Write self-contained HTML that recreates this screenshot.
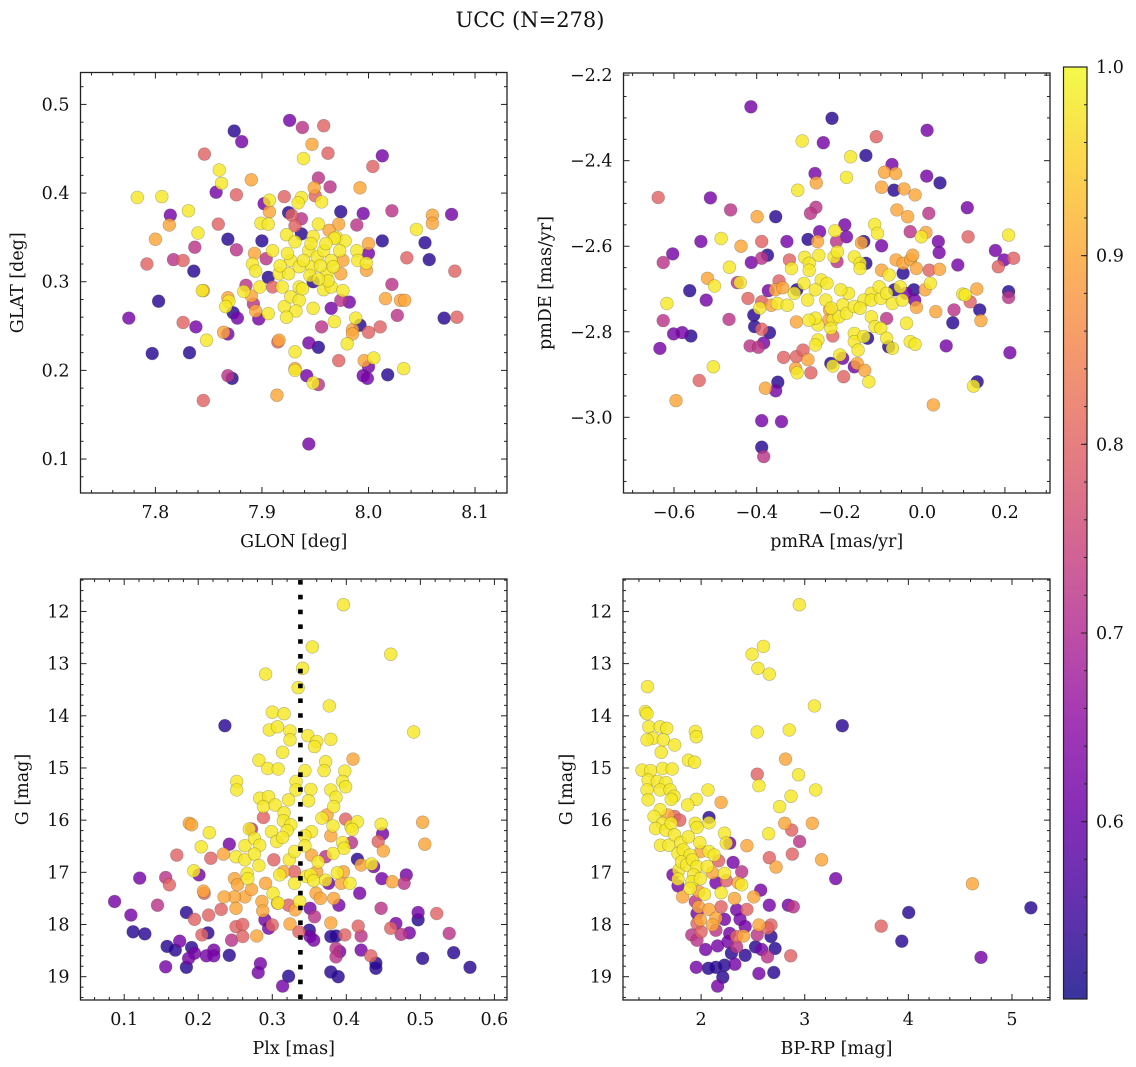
<!DOCTYPE html>
<html><head><meta charset="utf-8"><style>
html,body{margin:0;padding:0;background:#fff;}
svg{display:block;font-family:"DejaVu Serif","Liberation Serif",serif;}
</style></head><body>
<svg id="fig" width="1136" height="1067" viewBox="0 0 1136 1067" xmlns="http://www.w3.org/2000/svg">
<text x="530" y="27" font-size="21" text-anchor="middle" fill="#111">UCC (N=278)</text>
</svg>
<script>
// ---- data: [x, y, membership probability] ----
const posData=[[7.926,0.482,0.62],[7.938,0.474,0.72],[7.958,0.476,0.8],[7.874,0.47,0.53],[7.881,0.458,0.62],[7.947,0.455,0.9],[7.846,0.444,0.8],[7.939,0.439,0.98],[7.962,0.445,0.8],[8.013,0.442,0.62],[8.004,0.43,0.8],[7.86,0.426,0.98],[7.862,0.411,0.98],[7.89,0.415,0.9],[7.953,0.417,0.72],[7.964,0.407,0.72],[7.949,0.406,0.9],[7.992,0.406,0.9],[7.783,0.395,0.98],[7.806,0.396,0.98],[7.857,0.401,0.62],[7.876,0.398,0.8],[7.902,0.388,0.62],[7.907,0.392,0.98],[7.921,0.396,0.8],[7.937,0.395,0.98],[7.934,0.389,0.98],[7.95,0.397,0.8],[7.956,0.39,0.98],[7.831,0.38,0.98],[7.814,0.375,0.62],[7.813,0.364,0.9],[7.925,0.378,0.53],[7.928,0.375,0.8],[7.907,0.379,0.9],[7.937,0.371,0.72],[7.974,0.379,0.53],[7.995,0.377,0.62],[8.022,0.38,0.72],[8.078,0.376,0.62],[8.06,0.375,0.9],[8.06,0.366,0.9],[8.045,0.359,0.98],[7.859,0.365,0.8],[7.84,0.355,0.98],[7.8,0.348,0.9],[7.868,0.348,0.53],[7.876,0.336,0.72],[7.837,0.339,0.72],[7.899,0.366,0.98],[7.906,0.365,0.98],[7.931,0.363,0.8],[7.937,0.354,0.53],[7.953,0.365,0.98],[7.972,0.365,0.9],[7.989,0.364,0.72],[7.9,0.346,0.53],[7.923,0.353,0.98],[7.948,0.351,0.98],[7.963,0.358,0.9],[7.97,0.35,0.98],[7.978,0.346,0.98],[8.013,0.346,0.53],[8.053,0.344,0.53],[8.057,0.325,0.53],[8.036,0.327,0.8],[8.0,0.343,0.9],[7.792,0.32,0.8],[7.817,0.325,0.72],[7.826,0.324,0.8],[7.836,0.312,0.53],[7.893,0.332,0.9],[7.891,0.32,0.98],[7.894,0.312,0.98],[7.904,0.326,0.72],[7.91,0.335,0.98],[7.916,0.309,0.98],[7.906,0.305,0.53],[7.927,0.324,0.98],[7.925,0.309,0.98],[7.935,0.317,0.98],[7.944,0.335,0.98],[7.947,0.317,0.98],[7.952,0.328,0.98],[7.958,0.335,0.98],[7.965,0.324,0.98],[7.961,0.309,0.98],[7.973,0.335,0.98],[7.976,0.324,0.9],[7.974,0.309,0.9],[7.989,0.335,0.98],[7.99,0.324,0.98],[7.998,0.321,0.98],[8.0,0.332,0.62],[7.998,0.313,0.9],[8.081,0.312,0.8],[8.071,0.259,0.53],[8.083,0.26,0.8],[7.931,0.345,0.98],[7.935,0.294,0.98],[7.919,0.294,0.98],[7.91,0.294,0.8],[7.898,0.294,0.98],[7.885,0.296,0.72],[7.883,0.289,0.98],[7.89,0.284,0.9],[7.845,0.29,0.9],[7.844,0.29,0.98],[7.803,0.278,0.53],[7.775,0.259,0.62],[7.868,0.282,0.9],[7.869,0.278,0.98],[7.866,0.272,0.98],[7.892,0.275,0.72],[7.894,0.267,0.9],[7.873,0.265,0.53],[7.877,0.259,0.62],[7.897,0.258,0.62],[7.906,0.264,0.98],[7.921,0.272,0.98],[7.927,0.283,0.98],[7.935,0.279,0.98],[7.932,0.267,0.98],[7.923,0.26,0.98],[7.938,0.292,0.98],[7.948,0.3,0.53],[7.958,0.291,0.98],[7.965,0.294,0.98],[7.976,0.29,0.98],[7.948,0.27,0.98],[7.965,0.27,0.62],[7.968,0.255,0.98],[7.974,0.279,0.72],[7.982,0.277,0.62],[7.988,0.259,0.98],[7.992,0.251,0.53],[8.0,0.243,0.8],[8.011,0.249,0.8],[8.016,0.281,0.9],[8.03,0.279,0.9],[8.034,0.279,0.9],[8.022,0.297,0.72],[8.027,0.262,0.72],[7.826,0.254,0.8],[7.838,0.249,0.62],[7.848,0.234,0.98],[7.864,0.243,0.9],[7.868,0.241,0.62],[7.956,0.249,0.72],[7.985,0.246,0.9],[7.985,0.241,0.9],[7.972,0.211,0.8],[7.98,0.23,0.98],[7.916,0.234,0.9],[7.915,0.232,0.8],[7.944,0.231,0.62],[7.953,0.226,0.53],[7.931,0.221,0.98],[7.832,0.22,0.53],[7.797,0.219,0.53],[7.931,0.202,0.9],[7.931,0.2,0.98],[7.942,0.194,0.62],[7.948,0.186,0.98],[7.953,0.184,0.72],[7.868,0.194,0.72],[7.872,0.191,0.53],[7.995,0.194,0.62],[7.999,0.191,0.62],[8.0,0.204,0.62],[7.996,0.211,0.9],[8.005,0.214,0.98],[8.018,0.195,0.53],[8.033,0.202,0.98],[7.845,0.166,0.8],[7.914,0.172,0.9],[7.944,0.117,0.62],[7.917,0.318,0.98],[7.939,0.324,0.98],[7.955,0.318,0.98],[7.945,0.307,0.98],[7.967,0.317,0.98],[7.968,0.349,0.98],[7.946,0.343,0.98],[7.96,0.343,0.98],[7.924,0.332,0.98],[7.962,0.301,0.98],[7.953,0.303,0.98]];
const pmData=[[-0.414,-2.274,0.62],[-0.218,-2.301,0.53],[0.012,-2.329,0.62],[-0.111,-2.344,0.8],[-0.29,-2.354,0.98],[-0.239,-2.358,0.62],[-0.173,-2.391,0.98],[-0.136,-2.388,0.53],[-0.183,-2.439,0.98],[-0.259,-2.43,0.62],[-0.256,-2.452,0.9],[-0.073,-2.409,0.62],[-0.091,-2.427,0.9],[-0.064,-2.43,0.9],[0.011,-2.436,0.62],[-0.098,-2.462,0.9],[-0.068,-2.469,0.53],[-0.044,-2.466,0.9],[-0.017,-2.48,0.9],[0.043,-2.452,0.53],[-0.301,-2.469,0.98],[-0.638,-2.486,0.8],[-0.512,-2.487,0.62],[-0.463,-2.515,0.72],[-0.257,-2.509,0.72],[-0.27,-2.523,0.72],[-0.061,-2.515,0.9],[-0.035,-2.531,0.9],[0.016,-2.523,0.72],[0.109,-2.51,0.62],[-0.399,-2.531,0.9],[-0.354,-2.531,0.53],[-0.187,-2.55,0.62],[-0.115,-2.549,0.98],[-0.108,-2.57,0.98],[-0.248,-2.566,0.62],[-0.211,-2.564,0.98],[-0.183,-2.578,0.62],[-0.029,-2.566,0.72],[0.009,-2.568,0.9],[-0.002,-2.578,0.98],[0.111,-2.578,0.8],[0.209,-2.574,0.98],[-0.486,-2.582,0.98],[-0.535,-2.589,0.62],[-0.438,-2.6,0.9],[-0.388,-2.589,0.8],[-0.276,-2.584,0.53],[-0.253,-2.589,0.9],[-0.327,-2.589,0.62],[-0.207,-2.589,0.72],[-0.147,-2.592,0.9],[-0.141,-2.589,0.53],[-0.098,-2.599,0.62],[0.039,-2.589,0.62],[0.041,-2.615,0.62],[0.177,-2.61,0.62],[0.198,-2.632,0.62],[0.221,-2.628,0.8],[0.184,-2.648,0.8],[0.086,-2.644,0.62],[-0.603,-2.618,0.62],[-0.626,-2.638,0.72],[-0.413,-2.638,0.62],[-0.388,-2.628,0.72],[-0.374,-2.621,0.53],[-0.466,-2.649,0.98],[-0.321,-2.632,0.8],[-0.316,-2.652,0.98],[-0.284,-2.626,0.98],[-0.273,-2.64,0.98],[-0.273,-2.656,0.98],[-0.25,-2.621,0.98],[-0.213,-2.625,0.98],[-0.205,-2.613,0.98],[-0.206,-2.636,0.72],[-0.164,-2.625,0.98],[-0.15,-2.64,0.98],[-0.15,-2.652,0.98],[-0.136,-2.64,0.53],[-0.098,-2.656,0.9],[-0.08,-2.667,0.98],[-0.063,-2.632,0.9],[-0.046,-2.64,0.9],[-0.028,-2.631,0.9],[-0.023,-2.621,0.9],[-0.014,-2.652,0.9],[0.017,-2.656,0.8],[0.042,-2.654,0.9],[-0.046,-2.663,0.53],[-0.519,-2.675,0.9],[-0.502,-2.693,0.98],[-0.44,-2.685,0.98],[-0.447,-2.685,0.72],[-0.562,-2.704,0.53],[-0.522,-2.726,0.62],[-0.617,-2.734,0.98],[-0.626,-2.774,0.72],[-0.601,-2.805,0.62],[-0.58,-2.802,0.62],[-0.559,-2.81,0.53],[-0.634,-2.839,0.62],[-0.346,-2.681,0.8],[-0.355,-2.702,0.9],[-0.372,-2.704,0.62],[-0.337,-2.697,0.9],[-0.309,-2.71,0.98],[-0.303,-2.702,0.53],[-0.286,-2.687,0.98],[-0.244,-2.679,0.98],[-0.23,-2.687,0.98],[-0.258,-2.702,0.98],[-0.277,-2.726,0.98],[-0.35,-2.734,0.98],[-0.326,-2.738,0.98],[-0.393,-2.745,0.98],[-0.421,-2.722,0.8],[-0.388,-2.73,0.8],[-0.365,-2.738,0.9],[-0.407,-2.761,0.53],[-0.467,-2.771,0.72],[-0.405,-2.788,0.53],[-0.388,-2.794,0.8],[-0.369,-2.802,0.53],[-0.383,-2.826,0.62],[-0.416,-2.833,0.72],[-0.396,-2.836,0.72],[-0.335,-2.86,0.8],[-0.304,-2.858,0.8],[-0.288,-2.843,0.8],[-0.276,-2.865,0.9],[-0.306,-2.886,0.9],[-0.302,-2.896,0.98],[-0.269,-2.896,0.8],[-0.505,-2.882,0.98],[-0.539,-2.914,0.8],[-0.595,-2.961,0.9],[-0.379,-2.932,0.9],[-0.349,-2.918,0.53],[-0.354,-2.938,0.62],[-0.388,-3.008,0.62],[-0.34,-3.01,0.62],[-0.388,-3.07,0.53],[-0.383,-3.092,0.72],[-0.215,-2.771,0.98],[-0.201,-2.765,0.98],[-0.192,-2.737,0.98],[-0.183,-2.757,0.98],[-0.178,-2.71,0.98],[-0.197,-2.702,0.98],[-0.233,-2.726,0.98],[-0.224,-2.749,0.9],[-0.226,-2.773,0.9],[-0.221,-2.792,0.98],[-0.252,-2.784,0.98],[-0.258,-2.768,0.98],[-0.274,-2.773,0.98],[-0.304,-2.777,0.9],[-0.252,-2.819,0.98],[-0.258,-2.831,0.98],[-0.216,-2.81,0.8],[-0.199,-2.854,0.98],[-0.221,-2.874,0.53],[-0.216,-2.88,0.98],[-0.192,-2.862,0.62],[-0.164,-2.882,0.62],[-0.157,-2.874,0.9],[-0.139,-2.89,0.9],[-0.129,-2.917,0.98],[-0.19,-2.905,0.8],[-0.164,-2.804,0.98],[-0.164,-2.823,0.98],[-0.155,-2.843,0.98],[-0.141,-2.811,0.98],[-0.132,-2.815,0.53],[-0.123,-2.765,0.98],[-0.114,-2.788,0.98],[-0.1,-2.792,0.98],[-0.086,-2.815,0.98],[-0.081,-2.835,0.53],[-0.072,-2.839,0.98],[-0.123,-2.71,0.98],[-0.141,-2.726,0.98],[-0.123,-2.726,0.98],[-0.1,-2.722,0.98],[-0.104,-2.695,0.98],[-0.086,-2.71,0.98],[-0.072,-2.734,0.98],[-0.067,-2.702,0.53],[-0.048,-2.726,0.98],[-0.053,-2.695,0.98],[-0.039,-2.71,0.62],[-0.086,-2.769,0.72],[-0.02,-2.702,0.53],[-0.018,-2.726,0.62],[-0.014,-2.743,0.9],[0.007,-2.702,0.9],[0.02,-2.687,0.98],[-0.038,-2.78,0.98],[-0.029,-2.823,0.98],[-0.017,-2.829,0.98],[0.033,-2.753,0.9],[0.074,-2.779,0.53],[0.058,-2.833,0.62],[0.098,-2.712,0.98],[0.104,-2.714,0.98],[0.077,-2.749,0.72],[0.116,-2.73,0.8],[0.132,-2.7,0.9],[0.139,-2.749,0.53],[0.142,-2.774,0.9],[0.209,-2.706,0.53],[0.209,-2.72,0.72],[0.212,-2.849,0.62],[0.133,-2.917,0.53],[0.124,-2.927,0.98],[0.027,-2.971,0.9],[-0.22,-2.745,0.98],[-0.164,-2.741,0.98],[-0.15,-2.745,0.98]];
const plxData=[[0.396,11.87,0.98],[0.354,12.68,0.98],[0.46,12.82,0.98],[0.341,13.09,0.98],[0.291,13.2,0.98],[0.335,13.46,0.98],[0.377,13.81,0.98],[0.3,13.93,0.98],[0.316,13.96,0.98],[0.236,14.19,0.53],[0.491,14.31,0.98],[0.296,14.27,0.98],[0.307,14.21,0.98],[0.324,14.29,0.98],[0.324,14.46,0.98],[0.348,14.38,0.98],[0.36,14.49,0.98],[0.357,14.59,0.98],[0.379,14.45,0.98],[0.314,14.7,0.98],[0.282,14.85,0.98],[0.294,15.01,0.98],[0.308,15.02,0.98],[0.372,14.88,0.98],[0.37,15.05,0.98],[0.409,14.83,0.9],[0.398,15.06,0.98],[0.344,15.05,0.98],[0.252,15.26,0.98],[0.252,15.42,0.98],[0.395,15.26,0.98],[0.399,15.36,0.98],[0.379,15.42,0.98],[0.352,15.41,0.98],[0.332,15.26,0.98],[0.332,15.42,0.98],[0.322,15.61,0.98],[0.349,15.63,0.98],[0.386,15.56,0.98],[0.283,15.58,0.98],[0.295,15.55,0.98],[0.288,15.74,0.98],[0.304,15.71,0.98],[0.383,15.74,0.98],[0.367,15.96,0.98],[0.374,15.9,0.9],[0.316,15.86,0.98],[0.315,16.01,0.98],[0.325,16.09,0.98],[0.288,15.95,0.8],[0.399,15.98,0.8],[0.406,16.12,0.98],[0.415,16.03,0.98],[0.408,16.18,0.98],[0.382,16.11,0.98],[0.188,16.06,0.9],[0.191,16.09,0.9],[0.215,16.24,0.98],[0.503,16.04,0.9],[0.506,16.46,0.9],[0.447,16.08,0.98],[0.449,16.26,0.62],[0.353,16.22,0.98],[0.32,16.2,0.98],[0.272,16.17,0.72],[0.269,16.17,0.98],[0.299,16.22,0.98],[0.204,16.51,0.98],[0.242,16.46,0.62],[0.263,16.49,0.98],[0.276,16.35,0.98],[0.283,16.48,0.98],[0.306,16.41,0.98],[0.314,16.33,0.98],[0.344,16.3,0.98],[0.344,16.49,0.98],[0.379,16.3,0.9],[0.395,16.43,0.98],[0.397,16.54,0.98],[0.407,16.43,0.72],[0.443,16.41,0.8],[0.45,16.59,0.9],[0.171,16.67,0.8],[0.217,16.73,0.8],[0.234,16.65,0.9],[0.251,16.7,0.98],[0.263,16.76,0.98],[0.276,16.65,0.98],[0.282,16.87,0.98],[0.302,16.76,0.8],[0.323,16.76,0.98],[0.33,16.6,0.98],[0.353,16.67,0.9],[0.362,16.8,0.98],[0.372,16.7,0.72],[0.382,16.64,0.98],[0.415,16.75,0.53],[0.42,16.86,0.9],[0.434,16.84,0.98],[0.437,16.89,0.62],[0.156,17.1,0.72],[0.161,17.24,0.8],[0.121,17.11,0.62],[0.194,16.97,0.98],[0.201,17.05,0.62],[0.207,17.36,0.9],[0.208,17.4,0.8],[0.249,17.12,0.9],[0.253,17.24,0.9],[0.266,17.02,0.98],[0.267,17.12,0.98],[0.263,17.47,0.9],[0.249,17.47,0.9],[0.235,17.47,0.9],[0.272,17.33,0.9],[0.291,17.21,0.9],[0.301,17.4,0.98],[0.308,17.59,0.98],[0.31,17.05,0.98],[0.315,16.99,0.9],[0.33,16.99,0.8],[0.33,17.21,0.98],[0.346,17.08,0.98],[0.352,17.05,0.98],[0.356,17.16,0.98],[0.36,16.99,0.9],[0.372,17.15,0.98],[0.376,17.21,0.62],[0.388,17.01,0.98],[0.396,16.99,0.9],[0.393,17.21,0.9],[0.405,17.21,0.98],[0.337,17.56,0.98],[0.359,17.4,0.9],[0.365,17.5,0.9],[0.383,17.5,0.9],[0.39,17.63,0.62],[0.418,17.4,0.62],[0.448,17.12,0.62],[0.462,17.18,0.9],[0.478,17.21,0.72],[0.481,17.05,0.62],[0.087,17.56,0.62],[0.109,17.82,0.62],[0.145,17.63,0.72],[0.184,17.77,0.53],[0.195,17.9,0.8],[0.214,17.82,0.8],[0.231,17.71,0.8],[0.251,17.69,0.9],[0.286,17.56,0.9],[0.287,17.74,0.9],[0.307,17.59,0.9],[0.322,17.63,0.8],[0.331,17.72,0.9],[0.351,17.69,0.62],[0.357,17.85,0.72],[0.447,17.69,0.72],[0.497,17.77,0.62],[0.497,17.91,0.53],[0.522,17.79,0.8],[0.112,18.14,0.53],[0.128,18.18,0.53],[0.205,18.2,0.8],[0.213,18.16,0.53],[0.245,18.3,0.72],[0.251,18.04,0.8],[0.26,18.0,0.8],[0.26,18.23,0.8],[0.279,18.22,0.9],[0.29,17.91,0.62],[0.295,18.07,0.62],[0.3,18.01,0.8],[0.324,17.99,0.9],[0.336,18.14,0.8],[0.35,18.11,0.53],[0.351,18.23,0.62],[0.356,18.3,0.62],[0.379,17.97,0.9],[0.379,18.23,0.53],[0.386,18.22,0.53],[0.398,18.2,0.8],[0.416,18.03,0.8],[0.42,18.22,0.72],[0.46,18.07,0.8],[0.467,17.98,0.62],[0.474,18.19,0.72],[0.485,18.16,0.62],[0.539,18.17,0.72],[0.158,18.42,0.53],[0.169,18.49,0.53],[0.175,18.32,0.62],[0.191,18.44,0.53],[0.195,18.55,0.62],[0.187,18.65,0.62],[0.211,18.6,0.62],[0.221,18.49,0.62],[0.221,18.6,0.62],[0.242,18.59,0.53],[0.386,18.46,0.72],[0.391,18.52,0.62],[0.386,18.62,0.72],[0.42,18.49,0.62],[0.433,18.6,0.8],[0.44,18.74,0.53],[0.44,18.84,0.53],[0.545,18.54,0.53],[0.503,18.65,0.53],[0.567,18.82,0.53],[0.156,18.81,0.62],[0.184,18.82,0.53],[0.284,18.75,0.62],[0.281,18.92,0.62],[0.322,18.99,0.53],[0.314,19.18,0.62],[0.379,18.91,0.53],[0.389,19.0,0.53]];
const cmdData=[[2.947,11.87,0.98],[2.601,12.67,0.98],[2.492,12.82,0.98],[2.548,13.09,0.98],[2.658,13.2,0.98],[1.482,13.44,0.98],[1.462,13.92,0.98],[1.478,13.96,0.98],[3.093,13.81,0.98],[3.362,14.19,0.53],[2.541,14.31,0.98],[2.85,14.27,0.98],[1.495,14.21,0.98],[1.605,14.21,0.98],[1.668,14.24,0.98],[1.535,14.43,0.98],[1.635,14.46,0.98],[1.478,14.46,0.98],[1.744,14.56,0.98],[1.615,14.7,0.98],[1.944,14.3,0.98],[1.953,14.4,0.98],[1.877,14.85,0.98],[1.937,14.89,0.98],[2.814,14.83,0.9],[1.429,15.04,0.98],[1.512,15.05,0.98],[1.628,15.01,0.98],[1.721,15.02,0.98],[2.94,15.13,0.98],[2.541,15.12,0.8],[2.558,15.34,0.98],[1.488,15.23,0.98],[1.578,15.26,0.98],[1.661,15.28,0.98],[1.605,15.42,0.98],[1.701,15.42,0.98],[1.478,15.42,0.98],[1.488,15.61,0.98],[1.738,15.54,0.98],[1.711,15.6,0.98],[2.066,15.42,0.98],[3.106,15.42,0.98],[2.867,15.54,0.98],[1.953,15.6,0.98],[1.87,15.71,0.98],[2.193,15.66,0.9],[2.757,15.74,0.98],[1.605,15.8,0.98],[1.545,15.93,0.98],[1.628,16.06,0.98],[1.561,16.16,0.98],[1.661,16.19,0.98],[1.711,16.06,0.98],[1.678,15.9,0.9],[1.744,15.93,0.8],[1.794,16.0,0.8],[2.076,15.95,0.53],[2.076,16.05,0.98],[1.944,16.06,0.98],[1.96,16.14,0.98],[2.807,16.06,0.9],[3.073,16.06,0.9],[2.651,16.26,0.98],[2.874,16.19,0.8],[2.95,16.41,0.72],[1.608,16.48,0.98],[1.688,16.48,0.98],[1.744,16.28,0.98],[1.804,16.43,0.98],[1.877,16.32,0.98],[1.987,16.43,0.98],[2.226,16.25,0.98],[2.243,16.44,0.98],[2.276,16.44,0.62],[2.442,16.49,0.9],[1.777,16.64,0.98],[1.827,16.57,0.98],[1.894,16.67,0.98],[1.997,16.6,0.9],[2.076,16.6,0.98],[2.126,16.67,0.98],[2.169,16.78,0.8],[2.658,16.72,0.8],[2.724,16.9,0.9],[2.88,16.65,0.8],[3.163,16.76,0.9],[2.309,16.81,0.62],[1.728,17.05,0.62],[1.784,16.96,0.98],[1.777,17.13,0.98],[1.811,16.8,0.98],[1.86,16.86,0.98],[1.917,16.76,0.98],[1.96,16.89,0.98],[1.927,17.05,0.98],[1.91,17.18,0.98],[1.993,17.12,0.98],[2.06,16.89,0.98],[2.11,17.01,0.9],[2.226,17.02,0.98],[2.392,16.99,0.72],[2.143,17.2,0.62],[2.243,17.16,0.8],[2.359,17.2,0.9],[2.392,17.24,0.98],[1.777,17.26,0.62],[1.821,17.47,0.9],[1.894,17.31,0.98],[1.977,17.37,0.9],[2.033,17.42,0.98],[2.193,17.39,0.98],[2.322,17.5,0.9],[2.508,17.47,0.9],[2.575,17.34,0.62],[2.658,17.63,0.62],[2.841,17.63,0.62],[2.89,17.66,0.72],[2.342,17.72,0.62],[2.442,17.71,0.8],[1.944,17.56,0.72],[1.977,17.66,0.9],[2.076,17.71,0.9],[2.193,17.66,0.8],[1.96,17.79,0.62],[1.993,17.91,0.9],[2.143,17.88,0.9],[2.226,17.9,0.62],[2.11,18.01,0.9],[1.96,17.98,0.8],[1.91,18.2,0.72],[2.0,18.14,0.8],[2.143,18.11,0.72],[2.276,18.17,0.62],[2.375,17.9,0.62],[2.425,18.04,0.62],[2.342,18.23,0.8],[2.558,18.01,0.9],[2.674,18.01,0.8],[2.641,18.07,0.8],[2.674,18.23,0.53],[2.541,18.2,0.72],[2.409,18.22,0.9],[2.259,18.33,0.62],[2.342,18.43,0.72],[1.96,18.3,0.72],[2.043,18.48,0.62],[2.159,18.41,0.62],[2.292,18.55,0.53],[2.425,18.59,0.53],[2.525,18.43,0.53],[2.585,18.48,0.62],[2.714,18.46,0.53],[2.641,18.62,0.72],[2.864,18.6,0.8],[2.07,18.84,0.53],[2.143,18.82,0.53],[1.953,18.82,0.62],[2.226,18.78,0.53],[2.326,18.76,0.62],[2.209,19.01,0.53],[2.159,19.18,0.62],[2.558,18.94,0.62],[2.701,18.92,0.53],[3.299,17.12,0.62],[4.618,17.22,0.9],[5.183,17.68,0.53],[4.003,17.77,0.53],[3.738,18.03,0.8],[3.937,18.32,0.53],[4.701,18.63,0.62]];
const plxRef=[0.338];
const cbarTicks=[0.6,0.7,0.8,0.9,1.0];
const cbarRange=[0.506,1.0];

// ---- plasma colormap ----
const PL=["#0d0887","#41049d","#6a00a8","#8f0da4","#b12a90","#cc4778","#e16462","#f2844b","#fca636","#fcce25","#f0f921"];
function hx(h){return [parseInt(h.substr(1,2),16),parseInt(h.substr(3,2),16),parseInt(h.substr(5,2),16)];}
function plasma(t){t=Math.max(0,Math.min(1,t));const f=t*10,i=Math.min(9,Math.floor(f)),r=f-i;const a=hx(PL[i]),b=hx(PL[i+1]);
 return "rgb("+a.map((v,k)=>Math.round(v+(b[k]-v)*r)).join(",")+")";}
function pcol(p){return plasma((p-cbarRange[0])/(cbarRange[1]-cbarRange[0]));}

const NS="http://www.w3.org/2000/svg";
const svg=document.getElementById("fig");
const FS=17.5;
function mk(tag,attrs,parent){const e=document.createElementNS(NS,tag);for(const k in attrs)e.setAttribute(k,attrs[k]);(parent||svg).appendChild(e);return e;}
function fmt(v,d){const s=Math.abs(v).toFixed(d);return (v<-1e-9?"\u2212":"")+s;}

function panel(cfg){
 const g=mk("g",{});
 
 
 const {L,R,T,B,xr,yr,yinv}=cfg;
 const sx=v=>L+(v-xr[0])/(xr[1]-xr[0])*(R-L);
 const sy=yinv?(v=>T+(v-yr[0])/(yr[1]-yr[0])*(B-T)):(v=>B-(v-yr[0])/(yr[1]-yr[0])*(B-T));
 const pts=cfg.data.slice().sort((a,b)=>a[2]-b[2]);
 const pg=mk("g",{},g);
 for(const d of pts){
  const c=mk("circle",{cx:sx(d[0]).toFixed(1),cy:sy(d[1]).toFixed(1),r:6.4,fill:pcol(d[2]),"fill-opacity":0.82,stroke:"#3a3a3a","stroke-opacity":0.35,"stroke-width":0.6},pg);
  
  
 }
 if(cfg.vline){
  for(const v of cfg.vline){
   const l=mk("line",{x1:sx(v),x2:sx(v),y1:T+1,y2:B,stroke:"#000","stroke-width":4.6,"stroke-dasharray":"4.6 10.2"},g);
   
   
  }
 }
 const fr=mk("rect",{x:L,y:T,width:R-L,height:B-T,fill:"none",stroke:"#222","stroke-width":1.3},g);
 
 
 const tk=mk("g",{stroke:"#222","stroke-width":1},g);
 const eps=1e-9;
 let n0=Math.ceil((xr[0]-eps)/cfg.xmin),n1=Math.floor((xr[1]+eps)/cfg.xmin);
 for(let n=n0;n<=n1;n++){const v=n*cfg.xmin;const X=sx(v);const maj=Math.abs(v/cfg.xmaj-Math.round(v/cfg.xmaj))<1e-6;const len=maj?6:3;
  mk("line",{x1:X,x2:X,y1:B,y2:B-len},tk);mk("line",{x1:X,x2:X,y1:T,y2:T+len},tk);
  if(maj){const t=mk("text",{x:X,y:B+25,"font-size":FS,"text-anchor":"middle",fill:"#111",stroke:"none"},g);t.textContent=fmt(v,cfg.xd);
   
   }
 }
 n0=Math.ceil((yr[0]-eps)/cfg.ymin);n1=Math.floor((yr[1]+eps)/cfg.ymin);
 for(let n=n0;n<=n1;n++){const v=n*cfg.ymin;const Y=sy(v);const maj=Math.abs(v/cfg.ymaj-Math.round(v/cfg.ymaj))<1e-6;const len=maj?6:3;
  mk("line",{x1:L,x2:L+len,y1:Y,y2:Y},tk);mk("line",{x1:R,x2:R-len,y1:Y,y2:Y},tk);
  if(maj){const t=mk("text",{x:L-11,y:Y+6,"font-size":FS,"text-anchor":"end",fill:"#111",stroke:"none"},g);t.textContent=fmt(v,cfg.yd);
   
   }
 }
 const xl=mk("text",{x:(L+R)/2,y:B+54,"font-size":FS,"text-anchor":"middle",fill:"#111"},g);xl.textContent=cfg.xlabel;
 
 
 const yx=cfg.ylx,yc=(T+B)/2;
 const yl=mk("text",{x:yx,y:yc,"font-size":FS,"text-anchor":"middle",fill:"#111",transform:"rotate(-90 "+yx+" "+yc+")"},g);yl.textContent=cfg.ylabel;
 
 
}

panel({name:"position-panel",L:80.5,R:507,T:72.5,B:493,xr:[7.7297,8.13],yr:[0.0617,0.536],xmaj:0.1,xmin:0.02,ymaj:0.1,ymin:0.02,xd:1,yd:1,data:posData,xlabel:"GLON [deg]",ylabel:"GLAT [deg]",ylx:23});
panel({name:"proper-motion-panel",L:623.5,R:1050,T:73,B:493,xr:[-0.722,0.309],yr:[-3.177,-2.195],xmaj:0.2,xmin:0.05,ymaj:0.2,ymin:0.05,xd:1,yd:1,data:pmData,xlabel:"pmRA [mas/yr]",ylabel:"pmDE [mas/yr]",ylx:551});
panel({name:"parallax-panel",L:80.5,R:507,T:579,B:1000,xr:[0.041,0.617],yr:[11.378,19.447],yinv:true,xmaj:0.1,xmin:0.02,ymaj:1,ymin:0.2,xd:1,yd:0,data:plxData,vline:plxRef,xlabel:"Plx [mas]",ylabel:"G [mag]",ylx:28});
panel({name:"cmd-panel",L:623,R:1050,T:579,B:1000,xr:[1.246,5.367],yr:[11.378,19.447],yinv:true,xmaj:1,xmin:0.2,ymaj:1,ymin:0.2,xd:0,yd:0,data:cmdData,xlabel:"BP-RP [mag]",ylabel:"G [mag]",ylx:572});

// colorbar
(function(){
 const L=1063.5,R=1087,T=67,B=999;
 const defs=mk("defs",{});const lg=mk("linearGradient",{id:"cb",x1:0,y1:1,x2:0,y2:0},defs);
 for(let i=0;i<=20;i++){mk("stop",{offset:(i/20),"stop-color":plasma(i/20)},lg);}
 const g=mk("g",{});
 
 
 mk("rect",{x:L,y:T,width:R-L,height:B-T,fill:"url(#cb)","fill-opacity":0.82},g);
 mk("rect",{x:L,y:T,width:R-L,height:B-T,fill:"none",stroke:"#222","stroke-width":1.2},g);
 const sy=v=>B-(v-cbarRange[0])/(cbarRange[1]-cbarRange[0])*(B-T);
 for(let n=Math.ceil(cbarRange[0]/0.02-1e-6);n<=Math.floor(cbarRange[1]/0.02+1e-6);n++){const v=n*0.02;
  mk("line",{x1:R,x2:R-3,y1:sy(v),y2:sy(v),stroke:"#222","stroke-width":1},g);}
 for(const v of cbarTicks){const Y=sy(v);mk("line",{x1:R,x2:R-6,y1:Y,y2:Y,stroke:"#222","stroke-width":1},g);
  const t=mk("text",{x:R+9,y:Y+6,"font-size":FS,fill:"#111"},g);t.textContent=v.toFixed(1);
  
  }
})();
</script>
</body></html>
